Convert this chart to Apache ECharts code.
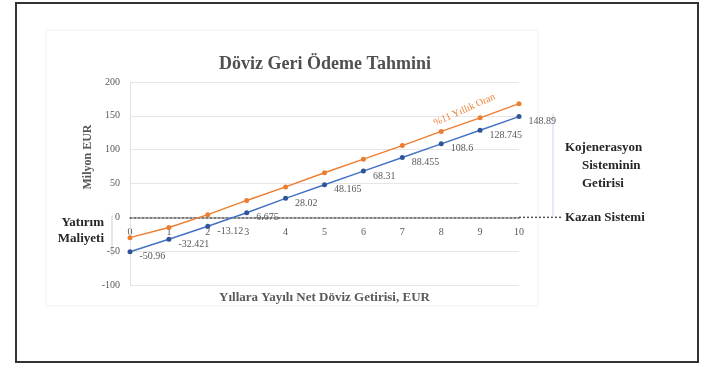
<!DOCTYPE html>
<html lang="tr">
<head>
  <meta charset="UTF-8">
  <title>Döviz Geri Ödeme Tahmini</title>
  <style>
    html, body { margin: 0; padding: 0; background: #fff; }
    #chart { width: 725px; height: 367px; }
  </style>
</head>
<body>
  <div id="chart"></div>
  <script src="https://cdn.jsdelivr.net/npm/echarts@6/dist/echarts.min.js"></script>
  <script>
    // yillar ve seriler
    const years = [0, 1, 2, 3, 4, 5, 6, 7, 8, 9, 10]
    const netGetiri = [-50.96, -32.421, -13.12, 6.675, 28.02, 48.165, 68.31, 88.455, 108.6, 128.745, 148.89]
    const yillikOran = [-30, -15, 4, 25, 45, 66, 86, 106, 127, 147, 168]
    const yTicks = [-100, -50, 0, 50, 100, 150, 200]

    const serif = 'Liberation Serif'
    const chart = echarts.init(document.getElementById('chart'))

    const pairs = arr => years.map((x, i) => [x, arr[i]])

    chart.setOption({
      animation: false,
      title: {
        text: 'Döviz Geri Ödeme Tahmini',
        left: 320, top: 50, textAlign: 'center',
        textStyle: { fontFamily: serif, fontSize: 18, fontWeight: 'bold', color: '#505050' }
      },
      grid: { left: 130, right: 206, top: 82, bottom: 82 },
      xAxis: {
        type: 'value', min: 0, max: 10, interval: 1,
        axisLine: { show: true, onZero: true, lineStyle: { color: '#555', width: 1.5, type: [2, 2] } },
        axisTick: { show: false },
        splitLine: { show: false },
        axisLabel: { show: false }
      },
      yAxis: {
        type: 'value', min: yTicks[0], max: yTicks[yTicks.length - 1], interval: 50,
        axisLine: { show: true, lineStyle: { color: '#e3e3e3' } },
        axisTick: { show: false },
        splitLine: { lineStyle: { color: '#e6e6e6' } },
        axisLabel: { fontFamily: serif, fontSize: 10, color: '#595959', margin: 10 }
      },
      series: [
        {
          name: '%11 Yıllık Oran', type: 'line', data: pairs(yillikOran),
          symbol: 'circle', symbolSize: 5,
          lineStyle: { color: '#ED7D31', width: 1.5 },
          itemStyle: { color: '#ED7D31' }
        },
        {
          name: 'Net Getiri', type: 'line', data: pairs(netGetiri),
          symbol: 'circle', symbolSize: 5,
          lineStyle: { color: '#4472C4', width: 1.5 },
          itemStyle: { color: '#2F5597' },
          label: {
            show: true, position: 'right', offset: [2, 5],
            formatter: p => p.value[1],
            fontFamily: serif, fontSize: 10, color: '#595959'
          }
        }
      ]
    })

    // yardimci cizgiler ve yazilar
    const px = (x, y) => chart.convertToPixel({ gridIndex: 0 }, [x, y])
    const zero = px(0, 0)
    const end = px(10, 0)
    const topBr = px(10, 153)
    const lowBr = px(0, netGetiri[0])
    const oranPt = px(8.6, 141)
    const bold = { fontFamily: serif, fontSize: 13, fontWeight: 'bold', fill: '#262626' }
    const mid = { textVerticalAlign: 'middle' }

    // x ekseni etiketleri sifir cizgisinin altinda
    const yearLabels = years.map(y => {
      const p = px(y, 0)
      return { type: 'text', x: p[0], y: p[1] + 15,
        style: { text: String(y), textAlign: 'center', textVerticalAlign: 'middle',
                 fontFamily: serif, fontSize: 10, fill: '#595959' } }
    })

    chart.setOption({
      graphic: [
        { type: 'rect', shape: { x: 16, y: 3, width: 682, height: 359 },
          style: { fill: 'none', stroke: '#333', lineWidth: 2 }, silent: true },
        { type: 'rect', shape: { x: 46, y: 30, width: 492, height: 276 },
          style: { fill: 'none', stroke: '#f0f0f0', lineWidth: 1 }, silent: true },
        { type: 'line', shape: { x1: end[0], y1: zero[1], x2: end[0] + 44, y2: zero[1] },
          style: { stroke: '#555', lineWidth: 1.5, lineDash: [2, 2] } },
        { type: 'line', shape: { x1: end[0] + 34, y1: topBr[1], x2: end[0] + 34, y2: zero[1] },
          style: { stroke: '#c9d6ee', lineWidth: 1 } },
        { type: 'line', shape: { x1: zero[0] - 18, y1: zero[1] - 2, x2: zero[0] - 18, y2: lowBr[1] + 4 },
          style: { stroke: '#cfcfcf', lineWidth: 1 } },
        { type: 'text', x: 565, y: 148, style: Object.assign({ text: 'Kojenerasyon' }, mid, bold) },
        { type: 'text', x: 582, y: 166, style: Object.assign({ text: 'Sisteminin' }, mid, bold) },
        { type: 'text', x: 582, y: 184, style: Object.assign({ text: 'Getirisi' }, mid, bold) },
        { type: 'text', x: 565, y: zero[1], style: Object.assign({ text: 'Kazan Sistemi' }, mid, bold) },
        { type: 'text', x: 104, y: 223, style: Object.assign({ text: 'Yatırım', textAlign: 'right' }, mid, bold) },
        { type: 'text', x: 104, y: 239, style: Object.assign({ text: 'Maliyeti', textAlign: 'right' }, mid, bold) },
        { type: 'text', x: 88, y: 157, rotation: Math.PI / 2,
          style: { text: 'Milyon EUR', textAlign: 'center', textVerticalAlign: 'middle',
                   fontFamily: serif, fontSize: 12, fontWeight: 'bold', fill: '#595959' } },
        { type: 'text', x: (zero[0] + end[0]) / 2, y: 298,
          style: { text: 'Yıllara Yayılı Net Döviz Getirisi, EUR', textAlign: 'center', textVerticalAlign: 'middle',
                   fontFamily: serif, fontSize: 13, fontWeight: 'bold', fill: '#595959' } },
        { type: 'text', x: oranPt[0], y: oranPt[1] - 12, rotation: 0.42,
          style: { text: '%11 Yıllık Oran', textAlign: 'center', textVerticalAlign: 'middle',
                   fontFamily: serif, fontSize: 10, fill: '#ED7D31' } }
      ].concat(yearLabels)
    })
  </script>
</body>
</html>
